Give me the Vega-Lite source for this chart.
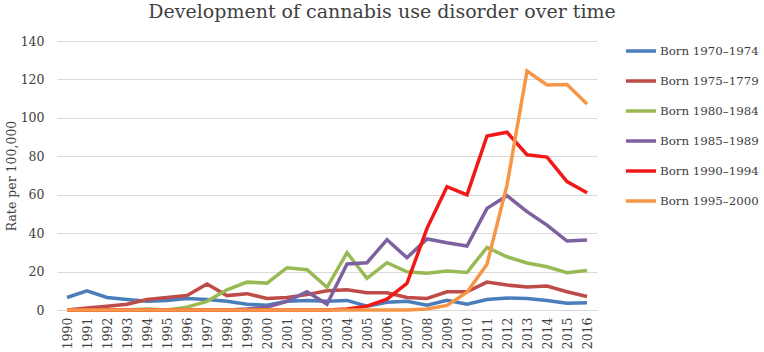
{
  "$schema": "https://vega.github.io/schema/vega-lite/v6.json",
  "width": 540,
  "height": 269,
  "autosize": "none",
  "padding": {"left": 57, "top": 41, "right": 167, "bottom": 42},
  "background": "white",
  "title": {"text": "Development of cannabis use disorder over time", "font": "DejaVu Serif", "fontSize": 19, "fontWeight": "normal", "color": "#404040", "anchor": "middle", "offset": 12, "dx": 55},
  "datasets": {
    "d": [
      {"g":"Born 1970–1974","y":1990,"v":6.5},{"g":"Born 1970–1974","y":1991,"v":10},{"g":"Born 1970–1974","y":1992,"v":6.5},{"g":"Born 1970–1974","y":1993,"v":5.5},{"g":"Born 1970–1974","y":1994,"v":4.5},{"g":"Born 1970–1974","y":1995,"v":5},{"g":"Born 1970–1974","y":1996,"v":6},{"g":"Born 1970–1974","y":1997,"v":5.5},{"g":"Born 1970–1974","y":1998,"v":4.5},{"g":"Born 1970–1974","y":1999,"v":3},{"g":"Born 1970–1974","y":2000,"v":2.5},{"g":"Born 1970–1974","y":2001,"v":4.5},{"g":"Born 1970–1974","y":2002,"v":5},{"g":"Born 1970–1974","y":2003,"v":4.5},{"g":"Born 1970–1974","y":2004,"v":5},{"g":"Born 1970–1974","y":2005,"v":2},{"g":"Born 1970–1974","y":2006,"v":4},{"g":"Born 1970–1974","y":2007,"v":4.5},{"g":"Born 1970–1974","y":2008,"v":2.5},{"g":"Born 1970–1974","y":2009,"v":5},{"g":"Born 1970–1974","y":2010,"v":3},{"g":"Born 1970–1974","y":2011,"v":5.5},{"g":"Born 1970–1974","y":2012,"v":6.2},{"g":"Born 1970–1974","y":2013,"v":6},{"g":"Born 1970–1974","y":2014,"v":5},{"g":"Born 1970–1974","y":2015,"v":3.5},{"g":"Born 1970–1974","y":2016,"v":3.8},
      {"g":"Born 1975–1779","y":1990,"v":0},{"g":"Born 1975–1779","y":1991,"v":1},{"g":"Born 1975–1779","y":1992,"v":2},{"g":"Born 1975–1779","y":1993,"v":3},{"g":"Born 1975–1779","y":1994,"v":5.5},{"g":"Born 1975–1779","y":1995,"v":6.5},{"g":"Born 1975–1779","y":1996,"v":7.5},{"g":"Born 1975–1779","y":1997,"v":13.5},{"g":"Born 1975–1779","y":1998,"v":7.5},{"g":"Born 1975–1779","y":1999,"v":8.5},{"g":"Born 1975–1779","y":2000,"v":6},{"g":"Born 1975–1779","y":2001,"v":6.5},{"g":"Born 1975–1779","y":2002,"v":8},{"g":"Born 1975–1779","y":2003,"v":10},{"g":"Born 1975–1779","y":2004,"v":10.5},{"g":"Born 1975–1779","y":2005,"v":9},{"g":"Born 1975–1779","y":2006,"v":9},{"g":"Born 1975–1779","y":2007,"v":6.5},{"g":"Born 1975–1779","y":2008,"v":6},{"g":"Born 1975–1779","y":2009,"v":9.5},{"g":"Born 1975–1779","y":2010,"v":9.5},{"g":"Born 1975–1779","y":2011,"v":14.5},{"g":"Born 1975–1779","y":2012,"v":13},{"g":"Born 1975–1779","y":2013,"v":12},{"g":"Born 1975–1779","y":2014,"v":12.5},{"g":"Born 1975–1779","y":2015,"v":9.5},{"g":"Born 1975–1779","y":2016,"v":7},
      {"g":"Born 1980–1984","y":1990,"v":0},{"g":"Born 1980–1984","y":1991,"v":0},{"g":"Born 1980–1984","y":1992,"v":0},{"g":"Born 1980–1984","y":1993,"v":0},{"g":"Born 1980–1984","y":1994,"v":0.5},{"g":"Born 1980–1984","y":1995,"v":0},{"g":"Born 1980–1984","y":1996,"v":1.5},{"g":"Born 1980–1984","y":1997,"v":4.5},{"g":"Born 1980–1984","y":1998,"v":10.5},{"g":"Born 1980–1984","y":1999,"v":14.5},{"g":"Born 1980–1984","y":2000,"v":14},{"g":"Born 1980–1984","y":2001,"v":22},{"g":"Born 1980–1984","y":2002,"v":21},{"g":"Born 1980–1984","y":2003,"v":11.8},{"g":"Born 1980–1984","y":2004,"v":29.8},{"g":"Born 1980–1984","y":2005,"v":16.5},{"g":"Born 1980–1984","y":2006,"v":24.6},{"g":"Born 1980–1984","y":2007,"v":19.9},{"g":"Born 1980–1984","y":2008,"v":19.1},{"g":"Born 1980–1984","y":2009,"v":20.3},{"g":"Born 1980–1984","y":2010,"v":19.5},{"g":"Born 1980–1984","y":2011,"v":32.6},{"g":"Born 1980–1984","y":2012,"v":27.7},{"g":"Born 1980–1984","y":2013,"v":24.5},{"g":"Born 1980–1984","y":2014,"v":22.5},{"g":"Born 1980–1984","y":2015,"v":19.4},{"g":"Born 1980–1984","y":2016,"v":20.5},
      {"g":"Born 1985–1989","y":1990,"v":0},{"g":"Born 1985–1989","y":1991,"v":0},{"g":"Born 1985–1989","y":1992,"v":0},{"g":"Born 1985–1989","y":1993,"v":0},{"g":"Born 1985–1989","y":1994,"v":0},{"g":"Born 1985–1989","y":1995,"v":0},{"g":"Born 1985–1989","y":1996,"v":0},{"g":"Born 1985–1989","y":1997,"v":0},{"g":"Born 1985–1989","y":1998,"v":0},{"g":"Born 1985–1989","y":1999,"v":0.5},{"g":"Born 1985–1989","y":2000,"v":1.5},{"g":"Born 1985–1989","y":2001,"v":4.5},{"g":"Born 1985–1989","y":2002,"v":9.5},{"g":"Born 1985–1989","y":2003,"v":3},{"g":"Born 1985–1989","y":2004,"v":24},{"g":"Born 1985–1989","y":2005,"v":24.6},{"g":"Born 1985–1989","y":2006,"v":36.6},{"g":"Born 1985–1989","y":2007,"v":27.2},{"g":"Born 1985–1989","y":2008,"v":37},{"g":"Born 1985–1989","y":2009,"v":35},{"g":"Born 1985–1989","y":2010,"v":33.3},{"g":"Born 1985–1989","y":2011,"v":52.9},{"g":"Born 1985–1989","y":2012,"v":59.5},{"g":"Born 1985–1989","y":2013,"v":51.2},{"g":"Born 1985–1989","y":2014,"v":44.2},{"g":"Born 1985–1989","y":2015,"v":35.9},{"g":"Born 1985–1989","y":2016,"v":36.4},
      {"g":"Born 1990–1994","y":1990,"v":0},{"g":"Born 1990–1994","y":1991,"v":0},{"g":"Born 1990–1994","y":1992,"v":0},{"g":"Born 1990–1994","y":1993,"v":0},{"g":"Born 1990–1994","y":1994,"v":0},{"g":"Born 1990–1994","y":1995,"v":0},{"g":"Born 1990–1994","y":1996,"v":0},{"g":"Born 1990–1994","y":1997,"v":0},{"g":"Born 1990–1994","y":1998,"v":0},{"g":"Born 1990–1994","y":1999,"v":0},{"g":"Born 1990–1994","y":2000,"v":0},{"g":"Born 1990–1994","y":2001,"v":0},{"g":"Born 1990–1994","y":2002,"v":0},{"g":"Born 1990–1994","y":2003,"v":0},{"g":"Born 1990–1994","y":2004,"v":0.5},{"g":"Born 1990–1994","y":2005,"v":2},{"g":"Born 1990–1994","y":2006,"v":5.6},{"g":"Born 1990–1994","y":2007,"v":13.9},{"g":"Born 1990–1994","y":2008,"v":42.5},{"g":"Born 1990–1994","y":2009,"v":64.2},{"g":"Born 1990–1994","y":2010,"v":59.9},{"g":"Born 1990–1994","y":2011,"v":90.6},{"g":"Born 1990–1994","y":2012,"v":92.5},{"g":"Born 1990–1994","y":2013,"v":80.8},{"g":"Born 1990–1994","y":2014,"v":79.6},{"g":"Born 1990–1994","y":2015,"v":66.8},{"g":"Born 1990–1994","y":2016,"v":61},
      {"g":"Born 1995–2000","y":1990,"v":0},{"g":"Born 1995–2000","y":1991,"v":0},{"g":"Born 1995–2000","y":1992,"v":0},{"g":"Born 1995–2000","y":1993,"v":0},{"g":"Born 1995–2000","y":1994,"v":0},{"g":"Born 1995–2000","y":1995,"v":0},{"g":"Born 1995–2000","y":1996,"v":0},{"g":"Born 1995–2000","y":1997,"v":0},{"g":"Born 1995–2000","y":1998,"v":0},{"g":"Born 1995–2000","y":1999,"v":0},{"g":"Born 1995–2000","y":2000,"v":0},{"g":"Born 1995–2000","y":2001,"v":0},{"g":"Born 1995–2000","y":2002,"v":0},{"g":"Born 1995–2000","y":2003,"v":0},{"g":"Born 1995–2000","y":2004,"v":0},{"g":"Born 1995–2000","y":2005,"v":0},{"g":"Born 1995–2000","y":2006,"v":0},{"g":"Born 1995–2000","y":2007,"v":0},{"g":"Born 1995–2000","y":2008,"v":0.5},{"g":"Born 1995–2000","y":2009,"v":2.4},{"g":"Born 1995–2000","y":2010,"v":9.2},{"g":"Born 1995–2000","y":2011,"v":23.8},{"g":"Born 1995–2000","y":2012,"v":65},{"g":"Born 1995–2000","y":2013,"v":124.4},{"g":"Born 1995–2000","y":2014,"v":117.1},{"g":"Born 1995–2000","y":2015,"v":117.3},{"g":"Born 1995–2000","y":2016,"v":107.2}
    ]
  },
  "data": {"name": "d"},
  "mark": {"type": "line", "strokeWidth": 3.5, "interpolate": "linear"},
  "encoding": {
    "x": {"field": "y", "type": "ordinal", "title": null,
      "scale": {"type": "point", "padding": 0.5},
      "axis": {"labelAngle": -90, "labelFont": "DejaVu Serif", "labelFontSize": 12.5, "labelColor": "#404040", "domainColor": "#d9d9d9", "ticks": false, "labelPadding": 7, "grid": false}},
    "y": {"field": "v", "type": "quantitative", "title": "Rate per 100,000",
      "scale": {"domain": [0, 140], "nice": false},
      "axis": {"values": [0,20,40,60,80,100,120,140], "labelFont": "DejaVu Serif", "labelFontSize": 12.5, "labelColor": "#404040", "domain": false, "ticks": false, "gridColor": "#d9d9d9", "labelPadding": 13, "titleFont": "DejaVu Serif", "titleFontSize": 12.5, "titleFontWeight": "normal", "titleColor": "#404040", "titlePadding": 2}},
    "color": {"field": "g", "type": "nominal", "title": null,
      "scale": {"domain": ["Born 1970–1974","Born 1975–1779","Born 1980–1984","Born 1985–1989","Born 1990–1994","Born 1995–2000"],
                "range": ["#4a7ebb","#be4b48","#98b954","#7d60a0","#f21818","#f79646"]},
      "legend": {"orient": "none", "legendX": 567, "legendY": -7, "symbolType": "stroke", "symbolSize": 900, "symbolStrokeWidth": 3.5, "labelFont": "DejaVu Serif", "labelFontSize": 11.8, "labelColor": "#404040", "rowPadding": 6, "labelOffset": 2, "labelLimit": 200}}
  },
  "config": {"view": {"stroke": null}}
}
